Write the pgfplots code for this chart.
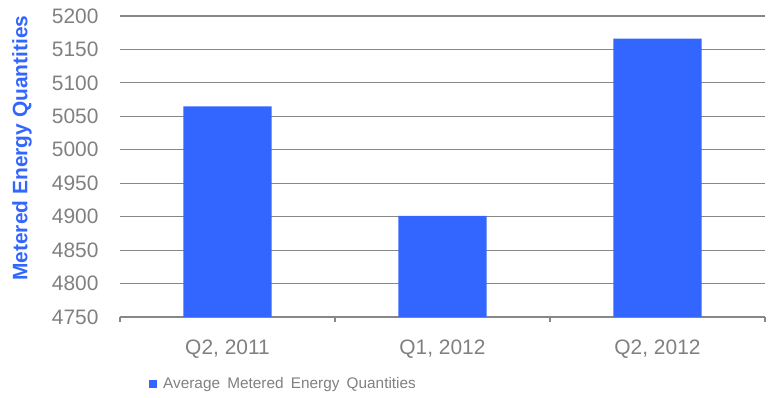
\documentclass[border=0pt]{standalone}
\usepackage{pgfplots}
\pgfplotsset{compat=1.18}
\usepackage{fontspec}
\setmainfont{Liberation Sans}
\definecolor{barblue}{HTML}{3366FF}
\definecolor{txtgrey}{HTML}{808080}
\definecolor{linegrey}{HTML}{878787}
\begin{document}
\begin{tikzpicture}
\useasboundingbox (0,0) rectangle (775bp,398bp);
\begin{axis}[
  at={(120bp,81bp)}, anchor=south west,
  scale only axis, width=645bp, height=301bp,
  xmin=0.5, xmax=3.5, ymin=4750, ymax=5200,
  ytick={4750,4800,...,5200},
  xtick={1,2,3},
  xticklabels={{Q2, 2011},{Q1, 2012},{Q2, 2012}},
  major tick length=0pt,
  extra x ticks={0.5,1.5,2.5,3.5},
  extra x tick labels={},
  extra x tick style={grid=none, major tick length=5bp, tick align=outside, tick style={draw=linegrey, line width=1.2bp}},
  axis lines*=left,
  y axis line style={draw=none},
  x axis line style={draw=linegrey, line width=1.3bp},
  ymajorgrids,
  grid style={draw=linegrey, line width=1.2bp},
  /pgf/number format/assume math mode=true,
  /pgf/number format/set thousands separator={},
  tick label style={font=\fontsize{21}{24}\selectfont, text=txtgrey},
  yticklabel style={xshift=-18bp},
  xticklabel style={yshift=-19bp},
  ylabel={Metered Energy Quantities},
  ylabel style={at={(axis description cs:-0.152,0.561)}, anchor=center, font=\bfseries\fontsize{21}{24}\selectfont, text=barblue},
  legend style={at={(axis description cs:0.045,-0.223)}, anchor=west, draw=none, fill=none, inner sep=0pt,
    font=\fontsize{15.4}{17}\selectfont, text=txtgrey, legend cell align=left},
  legend image code/.code={\fill[barblue] (0bp,-4bp) rectangle (8bp,4bp); \path (12bp,0bp);},
]
\addplot[ybar, bar width=0.41, fill=barblue, draw=none] coordinates {(1,5065) (2,4901) (3,5166)};
\addlegendentry{Average\hspace{3bp} Metered\hspace{3bp} Energy\hspace{3bp} Quantities}
\end{axis}
\end{tikzpicture}
\end{document}
